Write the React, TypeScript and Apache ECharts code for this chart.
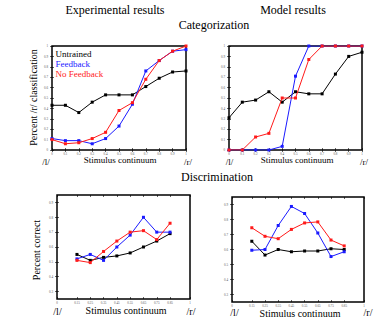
import React, { useEffect, useRef } from "react";
import * as echarts from "echarts";

// ---- data ----
const catX = [0, 0.1, 0.2, 0.3, 0.4, 0.5, 0.6, 0.7, 0.8, 0.9, 1];
const expUntrained = [0.43, 0.43, 0.36, 0.46, 0.53, 0.53, 0.53, 0.61, 0.69, 0.75, 0.76];
const expFeedback = [0.11, 0.09, 0.09, 0.06, 0.11, 0.23, 0.44, 0.76, 0.86, 0.95, 0.965];
const expNoFeedback = [0.1, 0.06, 0.07, 0.11, 0.17, 0.38, 0.455, 0.68, 0.86, 0.95, 1.0];
const modUntrained = [0.31, 0.46, 0.48, 0.56, 0.46, 0.56, 0.54, 0.54, 0.73, 0.9, 0.94];
const modFeedback = [0, 0, 0, 0, 0.035, 0.71, 1, 1, 1, 1, 1];
const modNoFeedback = [0, 0, 0.125, 0.16, 0.5, 0.5, 0.87, 1, 1, 1, 1];

const disX = [0.15, 0.25, 0.35, 0.45, 0.55, 0.65, 0.75, 0.85];
const expDisUntrained = [0.55, 0.51, 0.53, 0.54, 0.56, 0.6, 0.64, 0.69];
const expDisFeedback = [0.52, 0.55, 0.51, 0.6, 0.68, 0.8, 0.7, 0.7];
const expDisNoFeedback = [0.51, 0.495, 0.57, 0.64, 0.7, 0.71, 0.65, 0.76];
const modDisUntrained = [0.655, 0.563, 0.6, 0.585, 0.59, 0.59, 0.605, 0.6];
const modDisFeedback = [0.595, 0.6, 0.76, 0.887, 0.84, 0.71, 0.553, 0.585];
const modDisNoFeedback = [0.745, 0.688, 0.672, 0.734, 0.777, 0.784, 0.663, 0.624];

const catTicks = [0, 0.1, 0.2, 0.3, 0.4, 0.5, 0.6, 0.7, 0.8, 0.9, 1];
const disXTicks = [0, 0.15, 0.25, 0.35, 0.45, 0.55, 0.65, 0.75, 0.85, 1];
const disYTicks = [0.3, 0.4, 0.5, 0.6, 0.7, 0.8, 0.9];

const names = ["Untrained", "Feedback", "No Feedback"];
const colors = ["#000000", "#1a1aff", "#ff1a1a"];

const SERIF = "Liberation Serif";

const pair = (xs: number[], ys: number[]) => xs.map((x, i) => [x, ys[i]]);

export default function App() {
  const ref = useRef<HTMLDivElement>(null);
  useEffect(() => {
    if (!ref.current) return;
    const chart = echarts.init(ref.current, undefined, { renderer: "svg" });

    const grids = [
      { left: 52, top: 46, width: 134, height: 104 },
      { left: 229, top: 46, width: 133, height: 104 },
      { left: 57, top: 195, width: 133, height: 104 },
      { left: 232, top: 197, width: 132, height: 105 },
    ].map((g) => ({
      ...g,
      show: true,
      borderColor: "#000",
      borderWidth: 1.5,
      backgroundColor: "transparent",
    }));

    const labelStyle = { fontSize: 3.2, color: "#555", fontFamily: SERIF };
    const fmtCatX = (v: number) => (v === 0 ? "0" : v === 1 ? "1" : v.toFixed(1));
    const fmtCatY = (v: number) => (v === 0 ? "0" : v === 1 ? "1" : v.toFixed(1));
    const fmtDisX = (v: number) => (v === 0 ? "0" : v === 1 ? "1" : v.toFixed(2));
    const fmtDisY = (v: number) => v.toFixed(1);

    const xAxis: any[] = [];
    const yAxis: any[] = [];
    for (let g = 0; g < 4; g++) {
      const isCat = g < 2;
      const ticks = isCat ? catTicks : disXTicks;
      const base = {
        type: "value",
        gridIndex: g,
        min: 0,
        max: 1,
        axisLine: { show: false },
        splitLine: { show: false },
      };
      xAxis.push({
        ...base,
        position: "bottom",
        axisTick: { show: true, inside: true, length: 2, customValues: ticks, lineStyle: { color: "#000", width: 0.6 } },
        axisLabel: { show: true, margin: 2, customValues: ticks, formatter: isCat ? fmtCatX : fmtDisX, ...labelStyle },
      });
      xAxis.push({
        ...base,
        position: "top",
        axisTick: { show: true, inside: true, length: 2, customValues: ticks, lineStyle: { color: "#000", width: 0.6 } },
        axisLabel: { show: false },
      });
      const ybase = {
        type: "value",
        gridIndex: g,
        min: isCat ? 0 : 0.25,
        max: isCat ? 1 : 0.95,
        axisLine: { show: false },
        splitLine: { show: false },
      };
      const yt = isCat ? catTicks : disYTicks;
      yAxis.push({
        ...ybase,
        position: "left",
        axisTick: { show: true, inside: true, length: 2, customValues: yt, lineStyle: { color: "#000", width: 0.6 } },
        axisLabel: { show: true, margin: 4, customValues: yt, formatter: isCat ? fmtCatY : fmtDisY, ...labelStyle },
      });
      yAxis.push({
        ...ybase,
        position: "right",
        axisTick: { show: true, inside: true, length: 2, customValues: yt, lineStyle: { color: "#000", width: 0.6 } },
        axisLabel: { show: false },
      });
    }

    const panels = [
      { xs: catX, ys: [expUntrained, expFeedback, expNoFeedback] },
      { xs: catX, ys: [modUntrained, modFeedback, modNoFeedback] },
      { xs: disX, ys: [expDisUntrained, expDisFeedback, expDisNoFeedback] },
      { xs: disX, ys: [modDisUntrained, modDisFeedback, modDisNoFeedback] },
    ];
    const series: any[] = [];
    panels.forEach((p, g) => {
      p.ys.forEach((ys, k) => {
        series.push({
          type: "line",
          name: names[k],
          xAxisIndex: g * 2,
          yAxisIndex: g * 2,
          data: pair(p.xs, ys),
          symbol: "rect",
          symbolSize: 3,
          showSymbol: true,
          lineStyle: { color: colors[k], width: 1 },
          itemStyle: { color: colors[k] },
          z: 2 + k,
        });
      });
    });

    const txt = (text: string, x: number, y: number, size: number, rotate = 0) => ({
      type: "text",
      x,
      y,
      rotation: rotate,
      style: {
        text,
        fontSize: size,
        fontFamily: SERIF,
        fill: "#000",
        textAlign: "center",
        textVerticalAlign: "middle",
      },
    });

    chart.setOption({
      animation: false,
      textStyle: { fontFamily: SERIF },
      grid: grids,
      xAxis,
      yAxis,
      series,
      legend: {
        show: true,
        orient: "vertical",
        left: 50.5,
        top: 49,
        padding: 0,
        itemGap: 1,
        itemWidth: 0,
        itemHeight: 9.5,
        icon: "none",
        selectedMode: false,
        textStyle: { fontSize: 9, fontFamily: SERIF },
        data: names.map((n, k) => ({
          name: n,
          textStyle: { color: colors[k], fontSize: 9, fontFamily: SERIF },
        })),
      },
      graphic: [
        txt("Experimental results", 115, 10, 12),
        txt("Model results", 293, 10, 12),
        txt("Categorization", 214, 25, 12),
        txt("Discrimination", 217, 177, 12),
        txt("Percent /r/ classification", 33, 97.5, 10, Math.PI / 2),
        txt("Percent correct", 36, 250, 10, Math.PI / 2),
        txt("Stimulus continuum", 120, 160, 9),
        txt("/l/", 46, 161.5, 9),
        txt("/r/", 188, 162, 9),
        txt("Stimulus continuum", 297, 160, 9),
        txt("/l/", 229.5, 161.5, 9),
        txt("/r/", 364, 161.5, 9),
        txt("Stimulus continuum", 126, 310, 10),
        txt("/l/", 57.5, 311, 10),
        txt("/r/", 191, 311, 10),
        txt("Stimulus continuum", 300, 313, 10),
        txt("/l/", 234.5, 312.5, 10),
        txt("/r/", 368, 312.5, 10),
      ],
    });
    return () => chart.dispose();
  }, []);
  return (
    <div
      ref={ref}
      style={{ position: "absolute", left: 0, top: 0, width: 374, height: 321, background: "#fff" }}
    />
  );
}
